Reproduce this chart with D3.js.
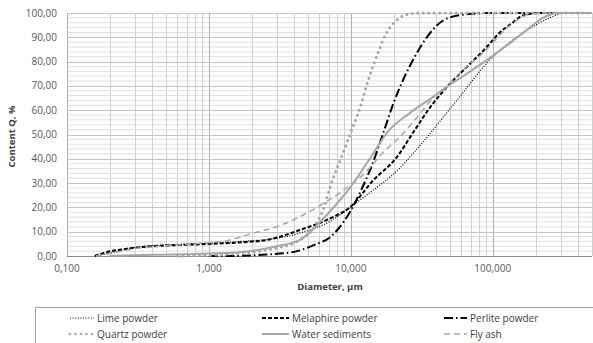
<!DOCTYPE html>
<meta charset="utf-8">
<script src="https://d3js.org/d3.v7.min.js"></script>
<style>
  body { margin: 0; background: #fff; }
  text { font-family: "Open Sans", sans-serif; }
</style>
<div id="chart"></div>
<script>

// [diameter µm, content %]
const limePowder = [[0.16,0],[0.2,1.2],[0.27,3],[0.35,4],[0.6,4.8],[1,5.3],[1.9,6.2],[2.6,6.8],[4.4,9.5],[7.5,15],[9.84,20],[14.3,27],[21.1,35],[28.2,43],[55.7,64],[95,80.6],[163,91.8],[252,98],[321,100],[500,100]];
const melaphirePowder = [[0.157,0],[0.18,1.2],[0.265,3],[0.34,3.7],[0.6,4.5],[1.02,5],[1.85,5.8],[2.56,6.6],[4.37,10.7],[7.47,16],[9.84,20],[14.3,31],[21.1,40.7],[27.3,50.6],[36,61],[47.4,69.5],[68.9,79],[90.7,86],[112,92],[138,96],[163,99],[214,100],[500,100]];
const perlitePowder = [[1,0],[1.5,0],[1.94,0.2],[2.56,0.6],[3.9,1.6],[5.76,5],[7.11,7.6],[8.1,11],[9.84,18],[12,28],[14,37],[17,51],[20,63],[24,74],[28.2,82],[34.3,90],[44.4,96.8],[60,99.2],[95,100],[500,100]];
const quartzPowder = [[0.6,0],[1,0.3],[1.41,0.8],[2.56,2.5],[4.37,6.6],[5.76,13.6],[6.56,21],[7.11,28],[7.96,36],[8.64,41],[9.84,50],[11.6,61],[13.2,72],[15.5,83.5],[17.9,92],[22.1,98],[26,99.7],[30,100],[500,100]];
const waterSediments = [[0.2,0],[0.4,0.5],[1,1],[1.94,2],[3,4],[4.37,6.6],[6.78,17],[9.84,28],[14.3,42],[17.9,50.6],[26,58.8],[37.8,65.4],[47.4,69.5],[90.7,80.6],[132,87.6],[182,94],[225,98],[296,100],[500,100]];
const flyAsh = [[0.16,0],[0.2,1],[0.3,3],[0.5,4.2],[1,5.5],[1.3,6.2],[1.94,9],[3.32,13],[5.76,20],[9.84,29],[13,35],[16.5,42],[22.1,49],[29.2,57],[37.8,65],[47.4,70],[61.5,76.5],[85.1,83.5],[117,92],[148,97],[182,99.5],[230,100],[500,100]];

const xTicks = [0.1, 1, 10, 100];
const yTicks = d3.range(0, 101, 10);

const series = [
  { name: "Lime powder", data: limePowder, color: "#000", width: 1.2, dash: "1,1.6", cap: "butt" },
  { name: "Melaphire powder", data: melaphirePowder, color: "#000", width: 2, dash: "4,2", cap: "butt" },
  { name: "Perlite powder", data: perlitePowder, color: "#000", width: 2, dash: "9,3,1.5,3", cap: "butt" },
  { name: "Quartz powder", data: quartzPowder, color: "#a6a6a6", width: 3, dash: "0,5.5", cap: "round" },
  { name: "Water sediments", data: waterSediments, color: "#a6a6a6", width: 2, dash: null, cap: "butt" },
  { name: "Fly ash", data: flyAsh, color: "#a6a6a6", width: 1.5, dash: "6,4", cap: "butt" }
];

const W = 593, H = 343;
const margin = { top: 13, right: 1, bottom: 87, left: 67 };

const svg = d3.select("#chart").append("svg")
  .attr("width", W).attr("height", H);

const x = d3.scaleLog().domain([0.1, 500]).range([margin.left, W - margin.right]);
const y = d3.scaleLinear().domain([0, 100]).range([H - margin.bottom, margin.top]);

// grid: minor horizontal
svg.append("g").selectAll("line")
  .data(d3.range(0, 101, 2).filter(d => d % 10 !== 0))
  .join("line")
  .attr("x1", x.range()[0]).attr("x2", x.range()[1])
  .attr("y1", d => y(d)).attr("y2", d => y(d))
  .attr("stroke", "#e0e0e0").attr("stroke-width", 1);

// vertical log grid
const xMinor = [];
[0.1, 1, 10, 100].forEach(dec => { for (let k = 1; k <= 9; k++) if (dec * k <= 500) xMinor.push(dec * k); });
svg.append("g").selectAll("line")
  .data(xMinor)
  .join("line")
  .attr("x1", d => Math.round(x(d)) + 0.5).attr("x2", d => Math.round(x(d)) + 0.5)
  .attr("y1", y(0)).attr("y2", y(100))
  .attr("stroke", d => xTicks.includes(d) ? "#b0b0b0" : "#d0d0d0").attr("stroke-width", 1);

// major horizontal
svg.append("g").selectAll("line")
  .data(yTicks)
  .join("line")
  .attr("x1", x.range()[0]).attr("x2", x.range()[1])
  .attr("y1", d => Math.round(y(d)) + 0.5).attr("y2", d => Math.round(y(d)) + 0.5)
  .attr("stroke", d => d === 0 ? "#8c8c8c" : "#c4c4c4").attr("stroke-width", 1);

// y labels
svg.append("g").selectAll("text")
  .data(yTicks)
  .join("text")
  .attr("x", 57).attr("y", d => y(d) + 3.5)
  .attr("text-anchor", "end")
  .attr("font-size", 10).attr("fill", "#595959")
  .text(d => d.toFixed(2).replace(".", ","));

// x labels
svg.append("g").selectAll("text")
  .data(xTicks)
  .join("text")
  .attr("x", d => x(d)).attr("y", y(0) + 16)
  .attr("text-anchor", "middle")
  .attr("font-size", 10).attr("fill", "#595959")
  .text(d => d.toFixed(3).replace(".", ","));

svg.append("text")
  .attr("x", 330).attr("y", 290)
  .attr("text-anchor", "middle")
  .attr("font-size", 9.5).attr("font-weight", "bold").attr("fill", "#404040")
  .text("Diameter, µm");

svg.append("text")
  .attr("transform", "translate(15," + (y(50) + 2) + ") rotate(-90)")
  .attr("text-anchor", "middle")
  .attr("font-size", 9.5).attr("font-weight", "bold").attr("fill", "#404040")
  .text("Content Q, %");

// curves
const line = d3.line()
  .x(d => x(d[0]))
  .y(d => y(d[1]))
  .curve(d3.curveMonotoneX);

svg.append("g").selectAll("path")
  .data(series)
  .join("path")
  .attr("d", d => line(d.data))
  .attr("fill", "none")
  .attr("stroke", d => d.color)
  .attr("stroke-width", d => d.width)
  .attr("stroke-dasharray", d => d.dash)
  .attr("stroke-linecap", d => d.cap);

// legend
const legend = svg.append("g");
legend.append("rect")
  .attr("x", 35.5).attr("y", 307.5).attr("width", 570).attr("height", 45)
  .attr("fill", "none").attr("stroke", "#a0a0a0");

const colX = [[70, 97], [262, 292], [444, 470]];
const rowY = [318, 334];
const items = legend.selectAll("g")
  .data(series)
  .join("g")
  .attr("transform", (d, i) => "translate(0," + rowY[Math.floor(i / 3)] + ")");

items.append("line")
  .attr("x1", (d, i) => colX[i % 3][0]).attr("x2", (d, i) => colX[i % 3][1] - 3)
  .attr("y1", 0).attr("y2", 0)
  .attr("stroke", d => d.color)
  .attr("stroke-width", d => Math.min(d.width, 2.5))
  .attr("stroke-dasharray", d => d.dash)
  .attr("stroke-linecap", d => d.cap);

items.append("text")
  .attr("x", (d, i) => colX[i % 3][1])
  .attr("y", 3.5)
  .attr("font-size", 10).attr("fill", "#404040")
  .text(d => d.name);

</script>
